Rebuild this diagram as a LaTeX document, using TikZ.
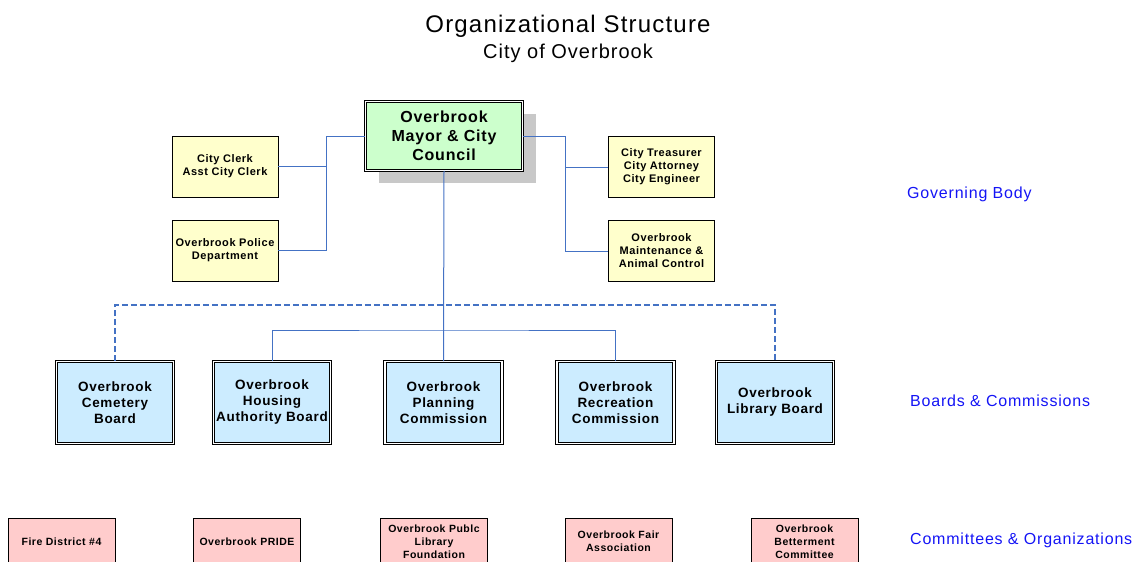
\documentclass[tikz,border=0pt]{standalone}
\usepackage{fontspec}
\setmainfont{Liberation Sans}[LetterSpace=5]
\usetikzlibrary{positioning,shadows}

\definecolor{mayorgreen}{RGB}{204,255,204}
\definecolor{staffyellow}{RGB}{255,255,204}
\definecolor{boardblue}{RGB}{204,236,255}
\definecolor{orgpink}{RGB}{255,204,204}
\definecolor{linkblue}{RGB}{68,114,196}
\definecolor{tierblue}{RGB}{20,20,245}
\definecolor{shadowgray}{RGB}{200,200,200}

\begin{document}
\begin{tikzpicture}[x=1pt,y=-1pt,node distance=84pt,
	mayorbox/.style={draw,fill=mayorgreen,line width=0.9pt,double=white,double distance=1.4pt,minimum width=157pt,minimum height=69pt,inner sep=0pt,align=center,font=\fontsize{16}{19}\selectfont\bfseries,
		drop shadow={shadow xshift=13pt,shadow yshift=-12pt,fill=shadowgray,opacity=1}},
	staff/.style={draw,fill=staffyellow,line width=0.8pt,minimum width=106pt,minimum height=61pt,inner sep=0pt,align=center,font=\fontsize{11}{13}\selectfont\bfseries},
	board/.style={draw,fill=boardblue,line width=0.9pt,double=white,double distance=1.4pt,minimum width=117pt,minimum height=82pt,inner sep=0pt,align=center,font=\fontsize{13.5}{16}\selectfont\bfseries},
	orgbox/.style={draw,fill=orgpink,line width=0.8pt,minimum width=107pt,minimum height=47pt,inner sep=0pt,align=center,font=\fontsize{10.5}{13}\selectfont\bfseries},
	tier/.style={anchor=base west,inner sep=0pt,text=tierblue,font=\fontsize{16}{19}\selectfont},
	link/.style={draw=linkblue,line width=1pt},
	dashlink/.style={draw=linkblue,line width=1.3pt,dash pattern=on 6pt off 3pt}]
	\useasboundingbox (0,0) rectangle (1136,562);

	\node[anchor=base,font=\fontsize{24}{28}\selectfont] (title) at (568,32) {Organizational Structure};
	\node[anchor=base,font=\fontsize{20}{24}\selectfont] (subtitle) at (568,58) {City of Overbrook};

	\node[mayorbox] (mayor) at (444,136) {Overbrook\\Mayor \& City\\Council};
	\node[staff] (clerk) at (225,166.5) {City Clerk\\Asst City Clerk};
	\node[staff] (police) [below of=clerk] {Overbrook Police\\Department};
	\node[staff] (treas) at (661.5,167) {City Treasurer\\City Attorney\\City Engineer};
	\node[staff] (maint) [below of=treas] {Overbrook\\Maintenance \&\\Animal Control};

	\node[board] (cem)   at (115,402.5)   {Overbrook\\Cemetery\\Board};
	\node[board] (house) at (272,402.5)   {Overbrook\\Housing\\Authority Board};
	\node[board] (plan)  at (443.5,402.5) {Overbrook\\Planning\\Commission};
	\node[board] (recr)  at (615.5,402.5) {Overbrook\\Recreation\\Commission};
	\node[board] (lib)   at (775,402.5)   {Overbrook\\Library Board};

	\node[orgbox] (fire)   at (61.5,541.5)  {Fire District \#4};
	\node[orgbox] (pride)  at (247,541.5)   {Overbrook PRIDE};
	\node[orgbox] (found)  at (434,541.5)   {Overbrook Publc\\Library\\Foundation};
	\node[orgbox] (fair)   at (618.5,541.5) {Overbrook Fair\\Association};
	\node[orgbox] (better) at (804.5,541.5) {Overbrook\\Betterment\\Committee};

	\node[tier] (gov) at (907,198) {Governing Body};
	\node[tier] (bc)  at (910,406) {Boards \& Commissions};
	\node[tier] (co)  at (910,544) {Committees \& Organizations};

	% staff links
	\coordinate (lbus) at (326,136);
	\coordinate (rbus) at (565,136);
	\draw[link] (mayor.west) -- (lbus) |- (police.east);
	\draw[link] (clerk.east) -- (clerk.east -| lbus);
	\draw[link] (mayor.east) -- (rbus) |- (maint.west);
	\draw[link] (treas.west) -- (treas.west -| rbus);

	% boards
	\coordinate (sbus) at (444,330);
	\coordinate (dbus) at (444,305);
	\draw[link] (mayor.south) -- (plan.north);
	\draw[link] (house.north) |- (sbus) -| (recr.north);
	\draw[dashlink] (cem.north) |- (dbus) -| (lib.north);
\end{tikzpicture}
\end{document}
